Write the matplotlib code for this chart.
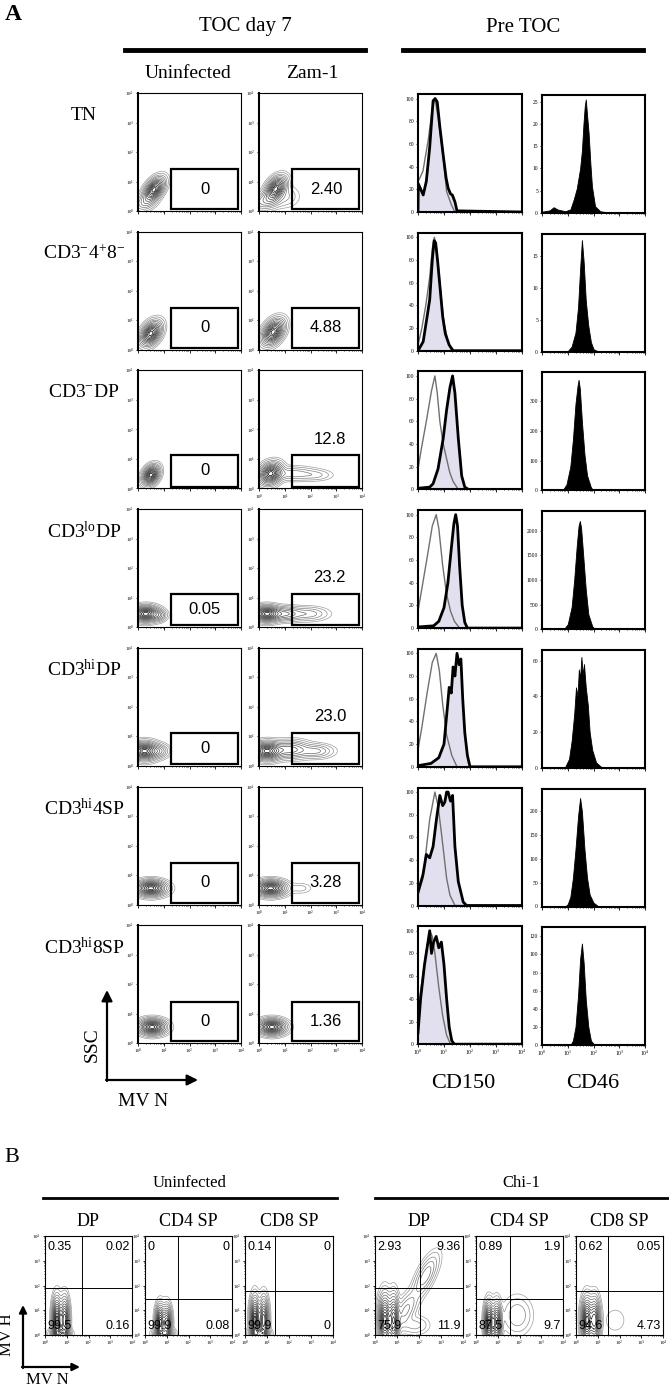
import numpy as np
import matplotlib
matplotlib.use("Agg")
from matplotlib import pyplot as plt
from matplotlib.lines import Line2D
from matplotlib.patches import Rectangle, FancyArrowPatch

W, H = 669, 1388
plt.rcParams["font.family"] = ["Liberation Serif", "DejaVu Serif"]
plt.rcParams["mathtext.fontset"] = "custom"
plt.rcParams["mathtext.rm"] = "Liberation Serif"
plt.rcParams["mathtext.it"] = "Liberation Serif:italic"
SANS = ["Liberation Sans", "DejaVu Sans"]

# ---------------- panel A data ----------------
ROW_LABELS = ["TN", r"$\mathrm{CD3^{-}4^{+}8^{-}}$", r"$\mathrm{CD3^{-}DP}$",
              r"$\mathrm{CD3^{lo}DP}$", r"$\mathrm{CD3^{hi}DP}$",
              r"$\mathrm{CD3^{hi}4SP}$", r"$\mathrm{CD3^{hi}8SP}$"]
GATE_UNINF = ["0", "0", "0", "0.05", "0", "0", "0"]
GATE_ZAM = ["2.40", "4.88", "12.8", "23.2", "23.0", "3.28", "1.36"]
GATE_X = (1.3, 3.9)            # MV N gate, decades
GATE_TOP = [1.43, 1.43, 1.12, 1.12, 1.12, 1.4, 1.4]

# populations (centre x, centre y, sd x, sd y, corr, weight) in decades
POP_UNINF = [
    [(0.62, 0.72, 0.2, 0.2, 0.5, 1.0), (0.3, 0.3, 0.22, 0.15, 0.3, 0.15)],
    [(0.5, 0.55, 0.2, 0.2, 0.4, 1.0)],
    [(0.5, 0.45, 0.16, 0.16, 0.3, 1.0)],
    [(0.3, 0.45, 0.27, 0.13, 0.0, 1.0), (0.8, 0.4, 0.15, 0.1, 0.0, 0.2)],
    [(0.25, 0.5, 0.27, 0.15, 0.0, 1.0), (0.8, 0.5, 0.2, 0.12, 0.0, 0.2)],
    [(0.5, 0.55, 0.3, 0.13, 0.0, 1.0)],
    [(0.55, 0.55, 0.27, 0.13, 0.0, 1.0)],
]
POP_ZAM = [
    [(0.65, 0.75, 0.2, 0.2, 0.4, 1.0), (0.3, 0.35, 0.3, 0.15, 0.2, 0.2), (1.0, 0.5, 0.3, 0.2, 0.0, 0.05)],
    [(0.55, 0.6, 0.21, 0.21, 0.4, 1.0)],
    [(0.45, 0.5, 0.22, 0.18, 0.2, 1.0), (1.3, 0.5, 0.5, 0.12, 0.0, 0.12), (2.2, 0.45, 0.35, 0.1, 0.0, 0.05)],
    [(0.3, 0.45, 0.27, 0.13, 0.0, 1.0), (1.0, 0.45, 0.35, 0.12, 0.0, 0.3), (1.9, 0.45, 0.4, 0.12, 0.0, 0.12)],
    [(0.3, 0.5, 0.3, 0.15, 0.0, 1.0), (1.2, 0.55, 0.4, 0.15, 0.0, 0.35), (2.2, 0.5, 0.35, 0.12, 0.0, 0.15)],
    [(0.45, 0.55, 0.3, 0.13, 0.0, 1.0), (1.6, 0.55, 0.25, 0.1, 0.0, 0.03)],
    [(0.5, 0.55, 0.27, 0.13, 0.0, 1.0)],
]

# CD150 histograms (% of max): grey = control, black/filled = sample
CD150_CTRL_X = [
    [0, 0.01, 0.19, 0.39, 0.55, 0.65, 0.77, 0.97, 1.1, 1.29, 1.42, 4],
    [0, 0.15, 0.3, 0.45, 0.55, 0.63, 0.7, 0.8, 0.9, 1.0, 1.15, 1.3, 4],
    [0, 0.13, 0.32, 0.52, 0.65, 0.74, 0.84, 0.97, 1.1, 1.22, 1.35, 1.55, 4],
    [0, 0.15, 0.35, 0.55, 0.7, 0.8, 0.95, 1.1, 1.25, 1.4, 1.6, 4],
    [0, 0.15, 0.35, 0.55, 0.7, 0.82, 0.95, 1.1, 1.3, 1.5, 4],
    [0, 0.19, 0.45, 0.65, 0.77, 0.9, 1.1, 1.23, 1.42, 4],
    [0, 0.15, 0.3, 0.45, 0.55, 0.65, 0.8, 0.95, 1.1, 1.25, 4],
]
CD150_CTRL_Y = [
    [0, 27, 36, 63, 91, 100, 84, 48, 18, 6, 0, 0],
    [5, 20, 40, 65, 90, 100, 92, 70, 45, 25, 8, 0, 0],
    [18, 36, 60, 87, 100, 85, 60, 40, 27, 15, 7, 0, 0],
    [15, 35, 62, 90, 100, 88, 55, 30, 15, 6, 0, 0],
    [15, 35, 65, 92, 100, 85, 55, 28, 10, 0, 0],
    [9, 24, 76, 100, 88, 64, 24, 9, 0, 0],
    [30, 55, 80, 100, 95, 80, 50, 25, 8, 0, 0],
]
CD150_SAMPLE_X = [
    [0, 0.01, 0.2, 0.32, 0.45, 0.58, 0.66, 0.74, 0.84, 0.97, 1.08, 1.16, 1.25, 1.32, 1.42, 1.5, 4],
    [0, 0.2, 0.35, 0.45, 0.55, 0.62, 0.68, 0.75, 0.85, 0.95, 1.05, 1.2, 1.35, 4],
    [0, 0.45, 0.58, 0.77, 0.97, 1.1, 1.23, 1.33, 1.42, 1.55, 1.68, 1.8, 1.94, 4],
    [0, 0.6, 0.8, 1.0, 1.15, 1.28, 1.38, 1.45, 1.52, 1.6, 1.7, 1.8, 1.9, 4],
    [0, 0.5, 0.8, 1.0, 1.1, 1.2, 1.28, 1.35, 1.42, 1.5, 1.58, 1.65, 1.72, 1.8, 1.9, 2.0, 4],
    [0, 0.19, 0.32, 0.45, 0.58, 0.71, 0.84, 0.95, 1.03, 1.1, 1.16, 1.25, 1.33, 1.42, 1.55, 1.74, 1.87, 4],
    [0, 0.1, 0.25, 0.35, 0.45, 0.52, 0.6, 0.7, 0.8, 0.9, 1.0, 1.1, 1.2, 1.3, 1.4, 4],
]
CD150_SAMPLE_Y = [
    [0, 25, 15, 27, 57, 98, 100, 97, 75, 50, 30, 21, 16, 15, 9, 1, 0],
    [0, 8, 30, 45, 80, 97, 95, 80, 55, 30, 15, 5, 0, 0],
    [1, 2, 5, 18, 45, 70, 90, 100, 85, 45, 12, 2, 0, 0],
    [1, 2, 6, 18, 40, 70, 92, 100, 90, 55, 20, 5, 0, 0],
    [1, 3, 8, 20, 45, 70, 65, 88, 80, 100, 90, 95, 60, 30, 10, 0, 0],
    [12, 27, 45, 42, 52, 76, 97, 88, 91, 100, 100, 92, 97, 52, 21, 3, 0, 0],
    [10, 40, 70, 85, 100, 80, 90, 95, 85, 90, 70, 40, 15, 3, 0, 0],
]

# CD46 histograms (counts)
CD46_X = [
    [0, 0.3, 0.45, 0.6, 0.9, 1.1, 1.23, 1.35, 1.48, 1.55, 1.61, 1.66, 1.7, 1.75, 1.81, 1.88, 1.94, 2.06, 2.26, 2.6, 4],
    [0, 1.0, 1.15, 1.3, 1.4, 1.48, 1.55, 1.62, 1.7, 1.8, 1.9, 2.0, 2.2, 4],
    [0, 0.8, 0.95, 1.1, 1.2, 1.3, 1.38, 1.42, 1.47, 1.55, 1.65, 1.75, 1.9, 2.0, 4],
    [0, 0.85, 1.0, 1.15, 1.25, 1.35, 1.42, 1.47, 1.52, 1.6, 1.7, 1.8, 1.95, 2.05, 4],
    [0, 0.9, 1.05, 1.15, 1.25, 1.32, 1.38, 1.43, 1.48, 1.53, 1.58, 1.63, 1.7, 1.78, 1.85, 1.95, 2.1, 2.3, 4],
    [0, 0.9, 1.0, 1.1, 1.2, 1.3, 1.4, 1.48, 1.55, 1.65, 1.75, 1.85, 2.0, 2.2, 4],
    [0, 1.1, 1.2, 1.3, 1.4, 1.48, 1.55, 1.62, 1.7, 1.8, 1.9, 2.05, 4],
]
CD46_Y = [
    [0.3, 0.6, 1.3, 0.8, 0.4, 0.8, 3, 5.5, 10, 14, 20, 24, 25.5, 22, 18, 11, 6, 1.5, 0.4, 0.1, 0],
    [0, 0.1, 0.8, 3, 7, 13, 17.5, 14, 8, 4, 1.5, 0.4, 0, 0],
    [0, 0, 20, 80, 170, 290, 350, 370, 340, 230, 120, 50, 10, 0, 0],
    [0, 0, 100, 450, 1000, 1700, 2100, 2200, 2050, 1500, 800, 300, 60, 0, 0],
    [0, 0.5, 5, 15, 30, 45, 40, 55, 50, 62, 52, 58, 45, 35, 20, 10, 3, 0.5, 0],
    [0, 0, 5, 20, 60, 120, 190, 228, 200, 120, 60, 25, 8, 0, 0],
    [0, 0, 5, 20, 55, 95, 112, 90, 50, 20, 5, 0, 0],
]
CD46_TICKS = [[0, 5, 10, 15, 20, 25], [0, 5, 10, 15], [0, 100, 200, 300],
              [0, 500, 1000, 1500, 2000], [0, 20, 40, 60], [0, 50, 100, 150, 200],
              [0, 20, 40, 60, 80, 100, 120]]
CD46_TOP = [26.5, 18.5, 395, 2400, 66, 248, 130]

# ---------------- panel B data ----------------
B_TITLES = ["DP", "CD4 SP", "CD8 SP", "DP", "CD4 SP", "CD8 SP"]
B_QX = [1.7, 1.52, 1.37, 2.05, 1.56, 1.46]
B_QY = [1.91, 1.45, 1.78, 1.91, 1.45, 1.78]
B_UL = ["0.35", "0", "0.14", "2.93", "0.89", "0.62"]
B_UR = ["0.02", "0", "0", "9.36", "1.9", "0.05"]
B_LL = ["99.5", "99.9", "99.9", "75.9", "87.5", "94.6"]
B_LR = ["0.16", "0.08", "0", "11.9", "9.7", "4.73"]
B_POP = [
    [(0.55, 0.6, 0.11, 0.45, 0.0, 1.0), (0.9, 0.6, 0.11, 0.45, 0.0, 0.8), (0.7, 0.05, 0.22, 0.12, 0.0, 0.6)],
    [(0.7, 0.5, 0.11, 0.35, 0.0, 1.0), (1.0, 0.5, 0.11, 0.35, 0.0, 0.8), (0.85, 0.05, 0.22, 0.12, 0.0, 0.6)],
    [(0.45, 0.6, 0.11, 0.45, 0.0, 1.0), (0.85, 0.6, 0.11, 0.45, 0.0, 0.8), (0.65, 0.05, 0.22, 0.12, 0.0, 0.6)],
    [(0.45, 0.6, 0.15, 0.5, 0.0, 1.0), (0.85, 0.6, 0.12, 0.5, 0.0, 0.8), (1.4, 1.0, 0.3, 0.4, 0.6, 0.15),
     (2.3, 2.4, 0.3, 0.45, 0.7, 0.18), (1.8, 0.4, 0.35, 0.2, 0.0, 0.06)],
    [(0.6, 0.5, 0.11, 0.4, 0.0, 1.0), (0.95, 0.5, 0.11, 0.4, 0.0, 0.8), (1.9, 0.8, 0.35, 0.4, 0.0, 0.08)],
    [(0.5, 0.6, 0.13, 0.45, 0.0, 1.0), (0.85, 0.6, 0.13, 0.45, 0.0, 0.8), (1.8, 0.6, 0.3, 0.3, 0.0, 0.02)],
]

LAVENDER = "#e2dfee"
LEVELS = [0.008, 0.02, 0.045, 0.08, 0.13, 0.2, 0.28, 0.37, 0.47, 0.58, 0.7, 0.82, 0.93]


def rect(x0, y0, x1, y1):
    return [x0 / W, 1 - y1 / H, (x1 - x0) / W, (y1 - y0) / H]


def ftext(x, y, s, **kw):
    fig.text(x / W, 1 - y / H, s, ha=kw.pop("ha", "center"), va=kw.pop("va", "center"), **kw)


def hline(x0, x1, y, lw):
    fig.add_artist(Line2D([x0 / W, x1 / W], [1 - y / H, 1 - y / H], color="black", lw=lw,
                          transform=fig.transFigure))


def arrow(x0, y0, x1, y1, ms):
    fig.add_artist(FancyArrowPatch((x0 / W, 1 - y0 / H), (x1 / W, 1 - y1 / H),
                                   transform=fig.transFigure, arrowstyle="-|>",
                                   mutation_scale=ms, color="black", lw=1.6,
                                   shrinkA=0, shrinkB=0))


def decade_ticks(axis, labels):
    axis.set_ticks(range(5))
    axis.set_ticklabels([r"$10^{%d}$" % k for k in range(5)] if labels else [])
    minors = [k + np.log10(m) for k in range(4) for m in range(2, 10)]
    axis.set_ticks(minors, minor=True)


def density(pops, n=180):
    g = np.linspace(0, 4, n)
    X, Y = np.meshgrid(g, g)
    Z = np.zeros_like(X)
    for cx, cy, sx, sy, rho, w in pops:
        dx, dy = (X - cx) / sx, (Y - cy) / sy
        Z += w * np.exp(-(dx * dx - 2 * rho * dx * dy + dy * dy) / (2 * (1 - rho ** 2)))
    return X, Y, Z / Z.max()


def contour_panel(ax, pops, xlabels):
    X, Y, Z = density(pops)
    cols = [str(v) for v in np.linspace(0.62, 0.0, len(LEVELS))]
    ax.contour(X, Y, Z, levels=LEVELS, colors=cols, linewidths=0.5)
    ax.set_xlim(0, 4)
    ax.set_ylim(0, 4)
    decade_ticks(ax.xaxis, xlabels)
    decade_ticks(ax.yaxis, True)
    ax.tick_params(labelsize=3.5, length=1.8, width=0.6, pad=1)
    ax.tick_params(which="minor", length=1.0, width=0.5)
    for s in ax.spines.values():
        s.set_linewidth(0.8)
    ax.spines["left"].set_linewidth(1.5)


fig = plt.figure(figsize=(W / 100, H / 100), dpi=100)

# ---------------- panel A ----------------
ftext(5, 14, "A", ha="left", fontsize=17, fontweight="bold")
ftext(245, 27, "TOC day 7", fontsize=15)
ftext(523, 27, "Pre TOC", fontsize=15)
hline(125, 365, 50, 3.5)
hline(403, 643, 50, 3.5)
ftext(188, 73, "Uninfected", fontsize=14)
ftext(312, 73, "Zam-1", fontsize=14)

ROW0, PERIOD, ROWH = 93, 138.7, 118
for i in range(7):
    top = ROW0 + PERIOD * i
    ftext(84, top + 22, ROW_LABELS[i], fontsize=14)

    for j, (x0, x1, pops, gate) in enumerate([(138, 241, POP_UNINF[i], GATE_UNINF[i]),
                                              (259, 362, POP_ZAM[i], GATE_ZAM[i])]):
        ax = fig.add_axes(rect(x0, top, x1, top + ROWH))
        xlab = (i == 6) or (j == 1 and i in (2, 5))
        contour_panel(ax, pops, xlab)
        ax.add_patch(Rectangle((GATE_X[0], 0.06), GATE_X[1] - GATE_X[0], GATE_TOP[i] - 0.06,
                               fill=False, lw=1.6, ec="black", zorder=5))
        if j == 1 and i in (2, 3, 4):
            ax.text(2.75, GATE_TOP[i] + 0.55, gate, ha="center", va="center",
                    fontsize=12, family=SANS)
        else:
            ax.text(sum(GATE_X) / 2, (0.06 + GATE_TOP[i]) / 2, gate, ha="center",
                    va="center", fontsize=12, family=SANS, zorder=6)

    # CD150
    ax = fig.add_axes(rect(418, top + 1, 522, top + 1 + ROWH))
    ax.fill_between(CD150_SAMPLE_X[i], CD150_SAMPLE_Y[i], color=LAVENDER, lw=0)
    ax.plot(CD150_CTRL_X[i], CD150_CTRL_Y[i], color="#707070", lw=1.0)
    ax.plot(CD150_SAMPLE_X[i], CD150_SAMPLE_Y[i], color="black", lw=2.0)
    ax.set_xlim(0, 4)
    ax.set_ylim(0, 104)
    ax.set_yticks([0, 20, 40, 60, 80, 100])
    decade_ticks(ax.xaxis, i == 6)
    ax.tick_params(labelsize=4, length=1.8, width=0.6, pad=1)
    ax.tick_params(which="minor", length=1.0, width=0.5)
    for s in ax.spines.values():
        s.set_linewidth(1.5)

    # CD46
    ax = fig.add_axes(rect(542, top + 2, 645, top + 2 + ROWH))
    ax.fill_between(CD46_X[i], CD46_Y[i], color="black", lw=0.6)
    ax.set_xlim(0, 4)
    ax.set_ylim(0, CD46_TOP[i])
    ax.set_yticks(CD46_TICKS[i])
    decade_ticks(ax.xaxis, i == 6)
    ax.tick_params(labelsize=4, length=1.8, width=0.6, pad=1)
    ax.tick_params(which="minor", length=1.0, width=0.5)
    for s in ax.spines.values():
        s.set_linewidth(1.5)

ftext(463, 1083, "CD150", fontsize=16)
ftext(593, 1083, "CD46", fontsize=16)
arrow(107, 1081, 107, 990, 16)
arrow(106, 1080, 198, 1080, 16)
ftext(92, 1045, "SSC", fontsize=14, rotation=90)
ftext(143, 1102, "MV N", fontsize=14)

# ---------------- panel B ----------------
ftext(4, 1158, "B", ha="left", fontsize=16)
ftext(190, 1183, "Uninfected", fontsize=12)
ftext(521, 1183, "Chi-1", fontsize=12)
hline(43, 337, 1198, 2.0)
hline(375, 669, 1198, 2.0)

B_X = [(45, 132), (145, 232), (245, 333), (375, 463), (476, 563), (576, 663)]
for k, (x0, x1) in enumerate(B_X):
    ftext((x0 + x1) / 2, 1222, B_TITLES[k], fontsize=13)
    ax = fig.add_axes(rect(x0, 1236, x1, 1335))
    contour_panel(ax, B_POP[k], True)
    ax.spines["left"].set_linewidth(0.8)
    ax.axvline(B_QX[k], color="black", lw=0.7)
    ax.axhline(B_QY[k], color="black", lw=0.7)
    kw = dict(fontsize=9, family=SANS, zorder=6)
    ax.text(0.1, 3.55, B_UL[k], ha="left", va="center", **kw)
    ax.text(3.9, 3.55, B_UR[k], ha="right", va="center", **kw)
    ax.text(0.1, 0.35, B_LL[k], ha="left", va="center", **kw)
    ax.text(3.9, 0.35, B_LR[k], ha="right", va="center", **kw)

arrow(23, 1368, 23, 1305, 11)
arrow(22, 1367, 80, 1367, 11)
ftext(7, 1335, "MV H", fontsize=12, rotation=90)
ftext(47, 1380, "MV N", fontsize=12)

fig.savefig("out.png", dpi=100)
